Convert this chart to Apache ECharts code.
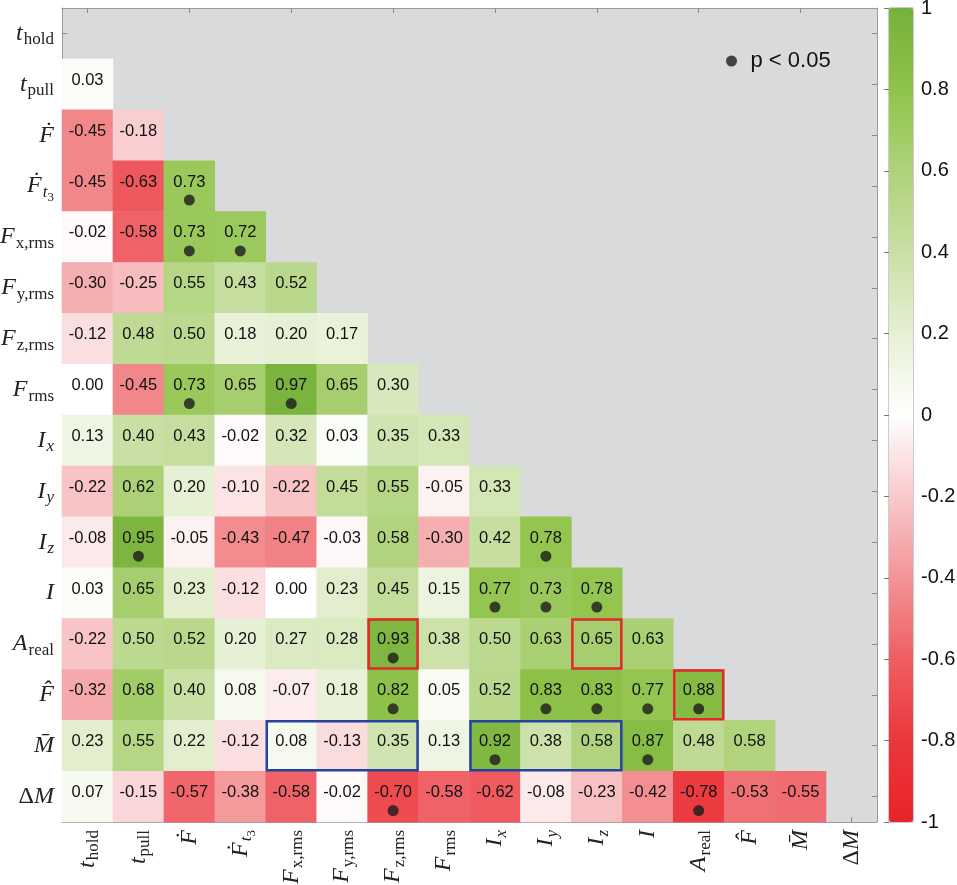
<!DOCTYPE html>
<html>
<head>
<meta charset="utf-8">
<script src="https://cdn.jsdelivr.net/npm/echarts@6/dist/echarts.min.js"></script>
<style>html,body{margin:0;padding:0;background:#fff;}#c{width:957px;height:885px;}</style>
</head>
<body>
<div id="c"></div>
<script>
// Variable names (rows top->bottom, columns left->right)
const categories = ['t_hold','t_pull','Fdot','Fdot_t3','F_x,rms','F_y,rms','F_z,rms','F_rms','I_x','I_y','I_z','I','A_real','F_hat','M_bar','dM'];
const tickLabels = [
  '{m|t}{s|hold}', '{m|t}{s|pull}', '{m|Ḟ}', '{m|Ḟ}{si|t}{ss|3}',
  '{m|F}{s|x,rms}', '{m|F}{s|y,rms}', '{m|F}{s|z,rms}', '{m|F}{s|rms}',
  '{m|I}{si|x}', '{m|I}{si|y}', '{m|I}{si|z}', '{m|I}',
  '{m|A}{s|real}', '{m|F\u0302}', '{m|M\u0304}', '{r|Δ}{m|M}'
];
// Lower-triangle correlation coefficients, row i holds columns 0..i-1
const corrRows = [
  [],
  [0.03],
  [-0.45, -0.18],
  [-0.45, -0.63, 0.73],
  [-0.02, -0.58, 0.73, 0.72],
  [-0.30, -0.25, 0.55, 0.43, 0.52],
  [-0.12, 0.48, 0.50, 0.18, 0.20, 0.17],
  [0.00, -0.45, 0.73, 0.65, 0.97, 0.65, 0.30],
  [0.13, 0.40, 0.43, -0.02, 0.32, 0.03, 0.35, 0.33],
  [-0.22, 0.62, 0.20, -0.10, -0.22, 0.45, 0.55, -0.05, 0.33],
  [-0.08, 0.95, -0.05, -0.43, -0.47, -0.03, 0.58, -0.30, 0.42, 0.78],
  [0.03, 0.65, 0.23, -0.12, 0.00, 0.23, 0.45, 0.15, 0.77, 0.73, 0.78],
  [-0.22, 0.50, 0.52, 0.20, 0.27, 0.28, 0.93, 0.38, 0.50, 0.63, 0.65, 0.63],
  [-0.32, 0.68, 0.40, 0.08, -0.07, 0.18, 0.82, 0.05, 0.52, 0.83, 0.83, 0.77, 0.88],
  [0.23, 0.55, 0.22, -0.12, 0.08, -0.13, 0.35, 0.13, 0.92, 0.38, 0.58, 0.87, 0.48, 0.58],
  [0.07, -0.15, -0.57, -0.38, -0.58, -0.02, -0.70, -0.58, -0.62, -0.08, -0.23, -0.42, -0.78, -0.53, -0.55]
];
// Significant cells [column, row]
const sigCells = [
  [2,3],[2,4],[3,4],[2,7],[4,7],[1,10],[9,10],[8,11],[9,11],[10,11],
  [6,12],[6,13],[9,13],[10,13],[11,13],[12,13],[8,14],[11,14],[6,15],[12,15]
];
// Highlight boxes [firstColumn, lastColumn, row]
const redBoxes = [[6,6,12],[10,10,12],[12,12,13]];
const blueBoxes = [[4,6,14],[8,10,14]];
const colorStops = ['#e8232a','#ea373c','#ef5e63','#f39497','#f8c9cb','#ffffff','#e6f0d4','#c9e0a5','#aed27a','#90c34a','#76b03c'];

const heatData = [];
corrRows.forEach((row, r) => row.forEach((v, c) => heatData.push([c, r, v])));

const serif = 'Liberation Serif';
const rich = {
  m: {fontFamily: serif, fontStyle: 'italic', fontSize: 24, lineHeight: 24, verticalAlign: 'top', color: '#222'},
  r: {fontFamily: serif, fontSize: 24, lineHeight: 24, verticalAlign: 'top', color: '#222'},
  s: {fontFamily: serif, fontSize: 17, lineHeight: 17, verticalAlign: 'top', padding: [10, 0, 0, 1], color: '#222'},
  si: {fontFamily: serif, fontStyle: 'italic', fontSize: 17, lineHeight: 17, verticalAlign: 'top', padding: [10, 0, 0, 1], color: '#222'},
  ss: {fontFamily: serif, fontSize: 13, lineHeight: 13, verticalAlign: 'top', padding: [17, 0, 0, 0], color: '#222'}
};
const tickStyle = {show: true, inside: true, alignWithLabel: true, length: 5, lineStyle: {color: '#8a8a8a'}};
const lineStyle = {show: true, lineStyle: {color: '#9a9a9a', width: 1}};

function boxSeries(boxes, color) {
  return {
    type: 'custom', xAxisIndex: 0, yAxisIndex: 0, z: 5,
    data: boxes,
    renderItem: (params, api) => {
      const c0 = api.value(0), c1 = api.value(1), r = api.value(2);
      const p0 = api.coord([c0, r]), p1 = api.coord([c1, r]);
      const sz = api.size([1, 1]);
      return {
        type: 'rect',
        shape: {x: p0[0] - sz[0] / 2 + 1, y: p0[1] - sz[1] / 2 + 1, width: p1[0] - p0[0] + sz[0] - 2, height: sz[1] - 2},
        style: {fill: 'none', stroke: color, lineWidth: 2.5}
      };
    }
  };
}

const chart = echarts.init(document.getElementById('c'));
chart.setOption({
  animation: false,
  grid: [
    {left: 62, top: 8, width: 815, height: 814, show: true, backgroundColor: '#d9dadc', borderWidth: 0,
     containLabel: false, outerBoundsMode: 'none'},
    {left: 889, top: 8, width: 24, height: 814, show: true, backgroundColor: 'transparent', borderColor: '#9a9a9a', borderWidth: 1,
     containLabel: false, outerBoundsMode: 'none'}
  ],
  xAxis: [
    {type: 'category', gridIndex: 0, data: categories, position: 'bottom', axisLine: lineStyle, axisTick: tickStyle,
     axisLabel: {rotate: 90, margin: 8, formatter: (v, i) => tickLabels[i], rich: rich}, splitLine: {show: false}},
    {type: 'category', gridIndex: 0, data: categories, position: 'top', axisLine: lineStyle, axisTick: tickStyle,
     axisLabel: {show: false}, splitLine: {show: false}},
    {type: 'value', gridIndex: 1, show: false, min: 0, max: 1}
  ],
  yAxis: [
    {type: 'category', gridIndex: 0, data: categories, inverse: true, position: 'left', axisLine: lineStyle, axisTick: tickStyle,
     axisLabel: {margin: 8, formatter: (v, i) => tickLabels[i], rich: rich}, splitLine: {show: false}},
    {type: 'category', gridIndex: 0, data: categories, inverse: true, position: 'right', axisLine: lineStyle, axisTick: tickStyle,
     axisLabel: {show: false}, splitLine: {show: false}},
    {type: 'value', gridIndex: 1, min: -1, max: 1, interval: 0.2, position: 'right',
     axisLine: {show: false}, splitLine: {show: false},
     axisTick: {show: true, inside: true, length: 5, lineStyle: {color: '#777'}},
     axisLabel: {margin: 8, fontFamily: 'Liberation Sans', fontSize: 20, color: '#111',
                 formatter: v => String(Number(v.toFixed(1)))}}
  ],
  visualMap: {
    type: 'continuous', min: -1, max: 1, seriesIndex: 0, calculable: false, show: true,
    left: 889, top: 8, itemWidth: 24, itemHeight: 814, padding: 0, text: null,
    inRange: {color: colorStops}
  },
  legend: {
    data: ['p < 0.05'], left: 726, top: 50, padding: 0, icon: 'circle', itemWidth: 28, itemHeight: 11,
    textStyle: {fontFamily: 'Liberation Sans', fontSize: 22, color: '#111'}
  },
  series: [
    {
      type: 'heatmap', xAxisIndex: 0, yAxisIndex: 0, data: heatData,
      label: {show: true, formatter: p => p.value[2].toFixed(2), fontFamily: 'Liberation Sans', fontSize: 16.5, color: '#111', offset: [0, -4]},
      emphasis: {disabled: true}
    },
    boxSeries(redBoxes, '#e5262c'),
    boxSeries(blueBoxes, '#2542a0'),
    {
      type: 'scatter', name: 'p < 0.05', xAxisIndex: 0, yAxisIndex: 0, data: sigCells, z: 6,
      symbol: 'circle', symbolSize: 11, symbolOffset: [0, 14], itemStyle: {color: '#1c1c1c'}
    }
  ]
});
</script>
</body>
</html>
